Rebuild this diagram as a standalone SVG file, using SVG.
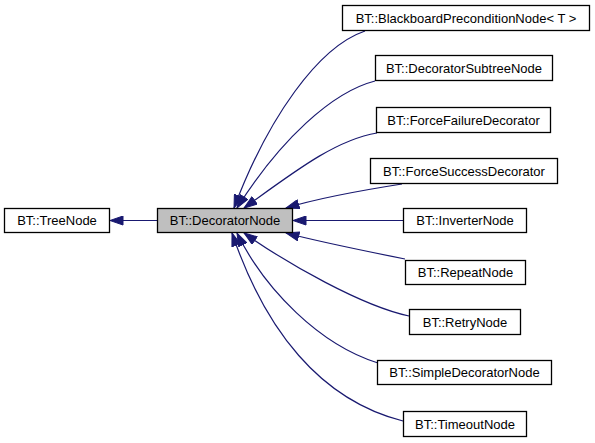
<svg xmlns="http://www.w3.org/2000/svg" width="595" height="443" viewBox="0 0 595 443">
<style>
.box{fill:#ffffff;stroke:#000000;stroke-width:1.3}
.cur{fill:#bfbfbf;stroke:#000000;stroke-width:1.3}
.lbl{font-family:"Liberation Sans",Arial,sans-serif;font-size:13px;fill:#000000;text-anchor:middle}
.edge{fill:none;stroke:#191970;stroke-width:1.2;marker-end:url(#arr)}
</style>
<defs>
<marker id="arr" viewBox="0 0 14 10" refX="13.5" refY="5" markerWidth="14" markerHeight="10" markerUnits="userSpaceOnUse" orient="auto">
<path d="M0.5,0.5 L13.5,5 L0.5,9.5 Z" fill="#191970" stroke="#191970" stroke-width="1"/>
</marker>
</defs>
<rect width="595" height="443" fill="#ffffff"/>
<g id="connectors">
<path class="edge" d="M157,220.5 L110,220.5"/>
<path class="edge" d="M365,31 C318,47 268,118 234,208"/>
<path class="edge" d="M375,81 C332,92 280,140 237,208"/>
<path class="edge" d="M377,133 C335,140 294,172 244,208"/>
<path class="edge" d="M402,184 C370,189 322,197 286,208"/>
<path class="edge" d="M403,220.5 L293,220.5"/>
<path class="edge" d="M405,259 C370,252 320,242 286,233"/>
<path class="edge" d="M409,316 C362,306 288,264 244,233"/>
<path class="edge" d="M378,363 C320,345 265,290 237,233"/>
<path class="edge" d="M403,421 C320,400 265,330 232,233"/>
</g>
<g id="node-TreeNode"><rect class="box" x="4.5" y="208.5" width="105" height="24"/><text class="lbl" x="57" y="225">BT::TreeNode</text></g>
<g id="node-DecoratorNode"><rect class="cur" x="157.5" y="208.5" width="135" height="24"/><text class="lbl" x="225" y="225">BT::DecoratorNode</text></g>
<g id="node-BlackboardPreconditionNode"><rect class="box" x="342.5" y="5.5" width="247" height="25"/><text class="lbl" x="466" y="22.5">BT::BlackboardPreconditionNode&lt; T &gt;</text></g>
<g id="node-DecoratorSubtreeNode"><rect class="box" x="375.5" y="55.5" width="177" height="25"/><text class="lbl" x="464" y="72.5">BT::DecoratorSubtreeNode</text></g>
<g id="node-ForceFailureDecorator"><rect class="box" x="376.5" y="107.5" width="174" height="25"/><text class="lbl" x="463.5" y="124.5">BT::ForceFailureDecorator</text></g>
<g id="node-ForceSuccessDecorator"><rect class="box" x="370.5" y="158.5" width="187" height="25"/><text class="lbl" x="464" y="175.5">BT::ForceSuccessDecorator</text></g>
<g id="node-InverterNode"><rect class="box" x="403.5" y="208.5" width="123" height="24"/><text class="lbl" x="465" y="225">BT::InverterNode</text></g>
<g id="node-RepeatNode"><rect class="box" x="405.5" y="260.5" width="120" height="24"/><text class="lbl" x="465.5" y="277">BT::RepeatNode</text></g>
<g id="node-RetryNode"><rect class="box" x="409.5" y="309.5" width="111" height="25"/><text class="lbl" x="465" y="326.5">BT::RetryNode</text></g>
<g id="node-SimpleDecoratorNode"><rect class="box" x="377.5" y="360.5" width="174" height="24"/><text class="lbl" x="464.5" y="377">BT::SimpleDecoratorNode</text></g>
<g id="node-TimeoutNode"><rect class="box" x="403.5" y="411.5" width="123" height="25"/><text class="lbl" x="465" y="428.5">BT::TimeoutNode</text></g>
</svg>
